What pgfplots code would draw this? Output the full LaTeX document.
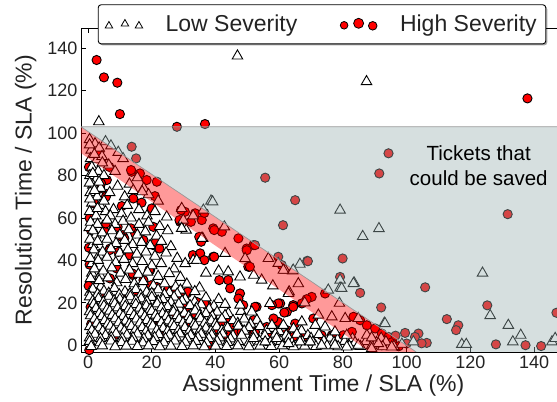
\documentclass[border=0pt]{standalone}
\usepackage{pgfplots}
\pgfplotsset{compat=1.18}
\usepackage{fontspec}
\setmainfont{Liberation Sans}
\usetikzlibrary{shadows}

\definecolor{savegray}{RGB}{152,175,175}
\definecolor{ticktext}{RGB}{35,35,35}

\pgfplotsset{
    lowleg/.style={legend image code/.code={
        \draw[##1, mark size=4.3bp] plot coordinates {(0bp,-1.5bp)};
        \draw[##1, mark size=4.3bp] plot coordinates {(16bp,0.5bp)};
        \draw[##1, mark size=4.3bp] plot coordinates {(30bp,-1.5bp)};}},
    highleg/.style={legend image code/.code={
        \draw[##1, mark size=3.8bp] plot coordinates {(0bp,-1bp)};
        \draw[##1, mark size=5.0bp] plot coordinates {(14.5bp,1bp)};
        \draw[##1, mark size=4.3bp] plot coordinates {(28.6bp,-1.5bp)};}},
}

\begin{document}
\begin{tikzpicture}
\begin{axis}[
    at={(0,0)}, anchor=south west,
    scale only axis, width=485bp, height=324bp,
    xmin=-2.2, xmax=150, ymin=-3.2, ymax=149.6,
    xtick={0,20,...,140}, ytick={0,20,...,140},
    tick align=inside, major tick length=5bp,
    tick style={black, line width=0.8bp},
    axis line style={black, line width=0.9bp},
    clip mode=individual,
    /pgf/number format/assume math mode=true,
    ticklabel style={font=\fontsize{18bp}{20bp}\selectfont, text=ticktext},
    xlabel={Assignment Time / SLA (\%)},
    ylabel={Resolution Time / SLA (\%)},
    xlabel style={at={(axis description cs:0.5,-0.1219)}, anchor=base,
        font=\fontsize{23bp}{26bp}\selectfont, text=ticktext},
    ylabel style={at={(axis description cs:-0.102,0.5)}, anchor=base,
        font=\fontsize{23bp}{26bp}\selectfont, text=ticktext},
    legend style={at={(axis description cs:0.5,1)}, anchor=center, yshift=3.7bp, xshift=-1.5bp,
        draw=black, line width=0.9bp, rounded corners=3bp, fill=white,
        drop shadow={shadow xshift=1.5bp, shadow yshift=-1.5bp, fill=black, opacity=0.35},
        font=\fontsize{23bp}{26bp}\selectfont, text=ticktext,
        inner xsep=7bp, inner ysep=8.5bp,
        /tikz/every odd column/.append style={column sep=21bp},
        /tikz/every even column/.append style={column sep=41bp}},
    legend columns=2, legend cell align=left,
]

% legend entries only
\addlegendimage{only marks, mark=triangle*, mark options={fill=white, draw=black, line width=0.8bp}, lowleg}
\addlegendentry{Low Severity}
\addlegendimage{only marks, mark=*, mark options={fill=red, draw=black, line width=0.8bp}, highleg}
\addlegendentry{High Severity}

% high severity
\addplot[forget plot, only marks, mark=*, mark size=4.6bp,
    mark options={fill=red, draw=black, line width=0.9bp}] coordinates {
(2.7,134.5) (5,126.3) (9.2,123.8) (10,109) (27.9,103) (36.7,104.3) (137.9,116.4)
(13.7,93.6) (15.1,88.1) (94.3,90.5) (91.4,81) (55.6,79) (65,68.4) (61.2,56.6)
(131.7,61.8) (79.9,40.9) (68.8,39.8) (79.1,32.2) (85.4,24.7) (105.8,27.3) (92,17.8)
(125.3,18.8) (112.6,12.3) (116.2,9.4) (115.5,7.1) (99.5,5.8) (103.7,5.5) (102.6,3.9)
(106.3,1.1) (104.7,0.9) (128,0.4) (137.3,0) (142.2,-0.4) (147,15.3)
(3.6,91.2) (4.3,87.8) (13.7,81.8) (16.3,81) (18.4,77.9) (21.6,77.1) (21,70.3)
(5.9,77.9) (5.9,71.3) (3.8,74) (14.2,69.2) (16.8,67.2) (20,64.5) (10.6,65.6) (1.7,66.9)
(28.9,58.2) (30.4,62.9) (33.6,62.2) (35.7,59) (39.3,55.1) (42,53.5) (47.2,50.4)
(49.8,45.6) (51.9,47.2) (50.3,37) (32.9,42.5) (35.2,43.3) (39.3,41.7) (5.3,53.5)
(10.6,51.1) (14.8,52.7) (20.5,55.8) (20.5,47.2) (17.4,49.6) (6.9,45.6) (9.5,44)
(9,36.2) (14.2,33) (19.5,35.4) (17.4,30.7) (21.6,27.5) (12.1,24.4) (6.9,31.5) (4.8,24.4)
(26.8,26) (31,24.4) (34.1,20.4) (31,18.1) (26.8,15.7) (22.1,11.8) (37.3,18.9) (39.3,15)
(44,30.7) (44.6,26.8) (47.7,24.4) (48.7,18.9) (52.9,18.1) (51.9,11.8) (44.6,11.8)
(39.3,7.1) (46.7,5.5) (51.9,5.5) (56.1,8.6) (60.3,19.7) (62.4,15.7) (64.4,18.9)
(58.2,7.1) (62.4,7.1) (31,8.6) (35.2,5.5)
(29.2,63.7) (36.5,62.4) (28.7,59) (32.3,58.2) (5.6,70) (2,66.9) (5.6,57.4) (0.9,54.3)
(9.3,55.8) (13.5,55.1) (10.9,51.9) (39.6,54.3) (34.9,51.1) (4.1,76.3) (6.7,84.1) (13.5,82.6)
(49.8,44.8) (50.8,37) (52.4,47.2) (59.7,41.7) (60.8,37.8) (69,39.6) (70.2,22.8) (68.6,21.7)
(74.4,24.4) (64.4,18.1) (67.1,19.7) (59.7,19.7) (61.6,15.4) (52.4,18.1) (57.7,18.9)
(83.3,13.4) (85.4,11.8) (87.5,9.4) (90.1,7.9) (92.2,5.5) (94.3,3.9) (82.8,6.3) (80.1,4.7)
(76.5,4.7) (89,1.6) (92.2,0) (59.7,11) (65,10.2) (70.7,12.6) (73.3,4.7) (47.2,22)
(48.2,6.3) (52.4,6.3) (56.6,4.7) (64.4,3.9) (68.1,3.9) (58.2,12.6) (61.8,7.1)
(6.7,44.8) (11.4,50.4) (13,42.5) (14,33.8) (19.2,35.4) (19.8,28.3) (21.3,48.8) (35.5,48.8)
(36.5,40.1) (39.6,41.7) (41.2,30.7) (25,26) (29.2,22.8) (31.3,25.2) (33.4,18.1) (30.2,14.2)
(33.9,14.2) (36.5,19.7) (21.9,12.6) (26.6,18.1) (24.5,5.5) (40.7,6.3) (43.8,4.7) (41.7,11)
(45.9,9.4) (38.1,0) (8.3,4.7) (0.4,-2.3) (14.5,24.4) (22.4,45.6)
(0.3,46) (0.5,38) (0.2,28) (0.8,18) (1,10) (0.5,60) (0.3,84)
(95.5,1.5) (97.5,-0.5) (100,0.8) (96.5,4.5)
};

% low severity
\addplot[forget plot, only marks, mark=triangle*, mark size=6.1bp,
    mark options={fill=white, draw=black, line width=0.9bp}] coordinates {
(3.4,105.4) (46.9,136.4) (87.4,124.3) (79.1,63.7) (91.3,55) (86.2,51.3) (123.8,34)
(126.2,14) (131.9,9.4) (135.8,4.7) (133.3,1.6) (117.3,0.4) (118.7,0.4) (102.1,1.6)
(145.6,1.6) (146.6,3.2) (83.5,29.4) (79.1,30.7) (79.1,27) (78.9,19.8) (93,10.4)
(66.5,38.2) (61.9,35.4) (64.2,35) (63.1,25.2) (38.6,68)
(0.5,97) (2.2,95) (1.0,92) (3.5,93) (5.5,96) (7.2,94) (0.8,88) (2.8,87.5) (9.5,91) (11,88)
(4.4,89) (1.2,84) (3.2,82) (6.5,85) (0.6,80) (2.5,78) (5.0,80) (8.5,82) (1.5,75.5) (4,74)
(0.7,72) (2.9,70) (6.8,72) (9.3,75) (1.2,67) (3.8,66) (11.5,70) (13,76) (15.5,79) (0.5,63)
(2.5,61) (5.5,63) (8,64) (10.5,62) (14.2,73) (17.5,74) (19,71) (12.3,66) (16,64) (18.5,61)
(21,63) (24.7,60.5) (29.4,64.5) (29.9,59) (36.2,63.7) (33,61) (22,68) (17,72.4) (39.1,67.6)
(42.8,55.8) (36,50.4) (30.8,54.3) (29.4,55.1) (35.7,50.4)
(0.5,94.5) (2,90) (4.5,86) (1.5,81) (3.5,77) (0.5,76.5) (2,73) (5,68) (0.6,69) (3,64.5)
(7,61) (0.4,55.5) (2.5,52) (1.5,47.5) (3.5,42.5) (1.2,38.5) (3.8,33) (1.2,34) (2.5,28.5)
(0.6,25) (4,27.5)
(0.8,58) (3,57) (6,59) (8.5,57) (11,58.5) (13.5,60) (16,57) (19,58) (22.5,56) (1.5,54)
(4.5,53) (7.5,54) (10,52) (12.8,54.5) (15.5,52) (18,53.5) (21.5,51.5) (25,54) (0.6,50)
(3,49) (6,50) (8.8,48) (11.5,49.5) (14,47.5) (16.8,48.5) (19.5,47) (23,49) (26,46.5)
(1.8,45) (4.6,44) (7.2,45.5) (10,43.5) (12.5,45) (15.3,43) (18.2,44) (21,42) (24.5,43.5)
(28,41) (0.7,41) (3.2,40) (6,41.5) (8.7,39) (11.3,40.5) (14,38.5) (17,39.5) (20,37.5)
(23,38.5) (27,36) (30.5,38.5) (33,40) (2,36) (4.8,35) (7.5,36.5) (10.2,34) (13,35.5)
(15.8,33.5) (18.7,34.5) (22,32.5) (25.5,33.8) (29,32) (0.8,31.5) (3.5,30.5) (6.3,31.8)
(9,29.5) (11.8,31) (14.5,29) (17.3,30) (20.5,28) (24,29) (27.5,27.5) (31,28.8) (35,27)
(1.5,26.5) (5,25.5) (8.3,26.8) (11.6,25.2) (15,26.3) (18.4,25) (22,26.2) (25.5,24.8) (29,26) (33.5,25.3)
(3,24) (6.5,24.5) (9.8,23.8) (13.2,24.3) (16.5,23.6) (20,24.4) (24,23.9) (28,24.2)
(0.5,22.8) (3.3,22) (6.6,23.1) (10,21.7) (13.3,22.9) (16.7,21.9) (20,22.6) (23.5,21.5)
(27,22.7) (30.5,21.8) (37,22.4) (41,21.6)
(1.5,20.8) (4.8,20.3) (8.2,21) (11.5,20.4) (15,21.1) (18.5,20.5) (22,20.9) (26,20.2)
(29.5,20.8) (33.5,20.4)
(1.8,19.3) (5,18.5) (8.4,19.6) (11.7,18.3) (15,19.2) (18.3,18.6) (21.7,19.5) (25,18.2)
(28.5,19.4) (32,18.7) (35.5,19.1) (39.5,18.4) (43,19.3)
(2.5,17.4) (6,17) (9.3,17.6) (12.8,17.1) (16.2,17.5) (19.5,17) (23,17.6) (27,17.2) (34,17.5) (38,17)
(0.5,15.8) (3.5,15) (6.8,16.1) (10,14.9) (13.5,15.9) (16.8,15.2) (20,16) (23.4,14.8)
(26.8,15.7) (30.3,15.1) (33.6,16.2) (37,14.9) (40.5,15.6) (44,15) (48,16)
(0.8,13.9) (4.3,13.5) (7.6,14.1) (11,13.6) (14.4,14) (17.8,13.5) (21.2,14.2) (24.6,13.6)
(28,14) (31.6,13.5) (35,14.1) (39,13.6) (43,14)
(2,12.3) (5.2,11.6) (8.5,12.5) (11.8,11.4) (15.2,12.4) (18.5,11.7) (21.8,12.6) (25.2,11.5)
(28.6,12.2) (32,11.8) (35.3,12.5) (38.7,11.5) (42,12.3) (45.5,11.6) (49,12.4) (53,11.8)
(2.8,10.4) (6.2,10) (9.6,10.6) (13,10.1) (16.3,10.5) (19.7,10) (23,10.6) (26.4,10.1)
(29.8,10.5) (33.2,10) (36.6,10.4) (40,10.1) (47,10.3) (51,10)
(0.6,8.8) (3.6,8.2) (7,9) (10.3,8.1) (13.6,8.9) (17,8.3) (20.3,9.1) (23.6,8) (27,8.8)
(30.4,8.4) (33.7,9) (37,8.1) (40.4,8.7) (43.8,8.2) (47.2,9) (50.5,8.3) (54,8.8) (57.5,8)
(61,8.6) (64.5,7.8)
(1.2,6.9) (4.6,6.5) (8,7.1) (11.4,6.6) (14.8,7) (18.2,6.5) (21.6,7.1) (25,6.6) (28.4,7)
(31.8,6.5) (35.2,7) (38.6,6.6) (42,7) (49,6.7) (56,6.9) (60,6.5) (67,6.8)
(2.2,5.2) (5.5,4.6) (8.8,5.4) (12.2,4.8) (15.5,5.3) (18.8,4.5) (22.2,5.1) (25.5,4.7)
(28.8,5.4) (32.2,4.6) (35.5,5.2) (38.8,4.8) (42.2,5.3) (45.5,4.5) (52.2,5) (55.5,4.6)
(58.8,5.3) (62.2,4.7) (65.5,5.2) (69,4.6) (72.5,5.1)
(0.5,3.5) (3.9,3.1) (7.3,3.6) (10.7,3.2) (14.1,3.5) (17.5,3) (20.9,3.6) (24.3,3.1)
(27.7,3.5) (31.1,3) (34.5,3.6) (37.9,3.2) (41.3,3.5) (44.7,3) (63,3.3) (70,3.2) (76,3.4)
(83,3.1) (92,3.3)
(0.5,1.8) (3.8,1.2) (7.2,2) (10.5,1.3) (13.8,1.9) (17.2,1.1) (20.5,1.7) (23.8,1.2) (27.2,2)
(30.5,1.4) (33.8,1.8) (37.2,1.1) (40.5,1.9) (43.8,1.3) (47.2,1.7) (50.5,1.2) (53.8,1.9)
(57.2,1.3) (60.5,1.8) (64,1.2) (67.2,1.7) (70.5,1.4) (74,1.9) (77.2,1.3) (80.5,1.8)
(83.8,1.2) (87.2,1.7) (90.5,1.3) (93.5,1.6)
(1,-0.6) (4.5,-0.3) (8.5,-0.7) (12,-0.4) (15.5,-0.6) (19,-0.3) (22.5,-0.7) (26,-0.4)
(29.5,-0.6) (33,-0.3) (36.5,-0.7) (40,-0.4) (43.5,-0.6) (47,-0.3) (50.5,-0.7) (54,-0.4)
(57.5,-0.6) (61,-0.3) (64.5,-0.7) (68,-0.4) (71.5,-0.6) (75,-0.3) (78.5,-0.7) (82,-0.4)
(85.5,-0.6) (89,-0.3) (92.5,-0.7) (96,-0.5) (98.5,0.5)
(37,34) (41,35) (44,34.6) (34.1,40.1) (43,43.3) (47.7,32.2) (54.5,30.7) (49.3,40.9)
(56.6,40.9) (59.7,38.6) (61.3,35.4) (64.4,35.4) (62.9,24.4) (52,33) (57.1,19.7) (51.4,15.7)
(47.7,18.9) (72.3,14.2) (76.5,13.4) (80.7,12.6) (84.8,12.6) (57.7,9.4) (61.3,9.4) (67.1,11)
(71.3,9.4) (74.4,8.6) (77.5,6.3) (81.2,4.7) (87.5,4.7) (91.1,0.8) (75.4,26) (79.6,26.8)
(83.3,29.1) (93.2,10.2) (89,3.5) (68,20) (58,28) (66,29)
(48.2,4.7) (51.9,3.2) (55.6,1.6) (59.2,3.2) (62.9,0.8) (66.5,1.6) (69.7,1.6) (73.3,0)
(77.5,0) (81.2,-0.8) (84.8,0) (89,-1.6) (95.3,-0.8)
};

% region of tickets that could be saved (drawn over the points)
\addplot[forget plot, draw=none, fill=savegray, fill opacity=0.4]
    coordinates {(-2.2,103) (150,103) (150,-3.2) (103,-3.2)};
\addplot[forget plot, draw=none, fill=red, fill opacity=0.4]
    coordinates {(-2.2,103) (103,-3.2) (88.5,-3.2) (-2.2,90.6)};
\addplot[forget plot, gray!80, line width=0.7bp]
    coordinates {(150,103) (-2.2,103) (103,-3.2)};

\node[align=center, font=\fontsize{20.5bp}{25bp}\selectfont, text=black]
    at (axis cs:122.6,84.8) {Tickets that\\could be saved};
\end{axis}
\pgfresetboundingbox
\path (-81bp,-50bp) rectangle (476bp,352bp);
\end{tikzpicture}
\end{document}
